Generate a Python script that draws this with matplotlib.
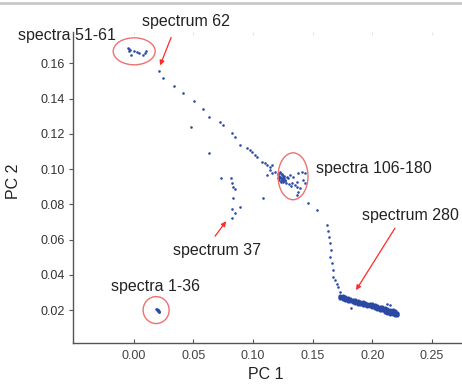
import numpy as np
import matplotlib
matplotlib.use('Agg')
import matplotlib.pyplot as plt
from matplotlib.patches import Ellipse
from matplotlib.lines import Line2D

plt.rcParams['font.family'] = ['Liberation Sans', 'DejaVu Sans']

# spectra 1-36
pc1_a = [0.0190, 0.0195, 0.0198, 0.0200, 0.0203, 0.0205, 0.0208, 0.0210, 0.0212, 0.0200, 0.0206]
pc2_a = [0.0208, 0.0205, 0.0203, 0.0200, 0.0198, 0.0196, 0.0193, 0.0190, 0.0188, 0.0202, 0.0194]

# spectrum 37 branch
pc1_b = [0.0732, 0.0816, 0.0824, 0.0832, 0.0849, 0.0832, 0.0891, 0.0824, 0.0849, 0.0824, 0.0631, 0.1084]
pc2_b = [0.0948, 0.0948, 0.0920, 0.0897, 0.0886, 0.0835, 0.0784, 0.0772, 0.0750, 0.0721, 0.1090, 0.0835]

# spectra 51-61
pc1_c = [-0.0048, -0.0039, -0.0031, -0.0039, -0.0023, 0.0003, 0.0028, 0.0044, 0.0078, 0.0095, 0.0103]
pc2_c = [0.1685, 0.1679, 0.1673, 0.1668, 0.1645, 0.1668, 0.1662, 0.1656, 0.1645, 0.1656, 0.1668]

# spectrum 62 down to 105
pc1_d = [0.0212, 0.0246, 0.0338, 0.0413, 0.0505, 0.0581, 0.0631, 0.0723, 0.0749, 0.0824,
         0.0849, 0.0891, 0.0950, 0.0975, 0.0992, 0.1017, 0.1034, 0.1076, 0.1101, 0.1118,
         0.1143, 0.1160, 0.1143, 0.1185, 0.0480, 0.1118, 0.1160]
pc2_d = [0.1554, 0.1515, 0.1469, 0.1430, 0.1384, 0.1339, 0.1294, 0.1265, 0.1248, 0.1203,
         0.1180, 0.1135, 0.1118, 0.1107, 0.1095, 0.1078, 0.1067, 0.1039, 0.1033, 0.1022,
         0.1010, 0.1022, 0.0993, 0.0982, 0.1237, 0.0965, 0.0976]

# spectra 106-180
pc1_e = [0.1226, 0.1243, 0.1218, 0.1251, 0.1285, 0.1310, 0.1335, 0.1377, 0.1411, 0.1436,
         0.1327, 0.1352, 0.1369, 0.1369, 0.1377, 0.1394, 0.1369, 0.1419, 0.1436, 0.1268,
         0.1293, 0.1210, 0.1218, 0.1226, 0.1235, 0.1243, 0.1251, 0.1260, 0.1218, 0.1235,
         0.1251, 0.1268, 0.1226, 0.1243, 0.1260, 0.1210, 0.1235, 0.1277, 0.1302, 0.1318]
pc2_e = [0.0982, 0.0965, 0.0948, 0.0937, 0.0954, 0.0965, 0.0954, 0.0976, 0.0982, 0.0976,
         0.0920, 0.0908, 0.0897, 0.0925, 0.0869, 0.0891, 0.0852, 0.0937, 0.0920, 0.0937,
         0.0948, 0.0971, 0.0960, 0.0954, 0.0948, 0.0943, 0.0954, 0.0948, 0.0937, 0.0931,
         0.0925, 0.0931, 0.0976, 0.0971, 0.0960, 0.0948, 0.0925, 0.0920, 0.0914, 0.0903]

# descent towards spectrum 280
pc1_f = [0.1462, 0.1538, 0.1621, 0.1629, 0.1638, 0.1646, 0.1654, 0.1646, 0.1663, 0.1671,
         0.1671, 0.1688, 0.1705, 0.1713, 0.1729]
pc2_f = [0.0806, 0.0767, 0.0682, 0.0648, 0.0614, 0.0580, 0.0540, 0.0500, 0.0466, 0.0427,
         0.0387, 0.0370, 0.0347, 0.0330, 0.0302]

# spectra ~181-300 band
pc1_g = [0.1729, 0.1729, 0.1729, 0.1750, 0.1750, 0.1750, 0.1771, 0.1771, 0.1771,
         0.1792, 0.1792, 0.1792, 0.1813, 0.1813, 0.1813, 0.1834, 0.1834, 0.1834,
         0.1855, 0.1855, 0.1855, 0.1876, 0.1876, 0.1876, 0.1897, 0.1897, 0.1897,
         0.1918, 0.1918, 0.1918, 0.1938, 0.1938, 0.1938, 0.1959, 0.1959, 0.1959,
         0.1980, 0.1980, 0.1980, 0.2001, 0.2001, 0.2001, 0.2022, 0.2022, 0.2022,
         0.2043, 0.2043, 0.2043, 0.2064, 0.2064, 0.2064, 0.2085, 0.2085, 0.2085,
         0.2106, 0.2106, 0.2106, 0.2106, 0.2127, 0.2127, 0.2127, 0.2127,
         0.2148, 0.2148, 0.2148, 0.2148, 0.2169, 0.2169, 0.2169, 0.2169,
         0.2190, 0.2190, 0.2190, 0.2190, 0.2207, 0.2207, 0.2207]
pc2_g = [0.0282, 0.0274, 0.0266, 0.0278, 0.0270, 0.0262, 0.0273, 0.0265, 0.0257,
         0.0268, 0.0261, 0.0253, 0.0264, 0.0257, 0.0250, 0.0259, 0.0252, 0.0245,
         0.0255, 0.0248, 0.0241, 0.0251, 0.0244, 0.0237, 0.0247, 0.0240, 0.0233,
         0.0243, 0.0237, 0.0230, 0.0240, 0.0234, 0.0227, 0.0237, 0.0231, 0.0224,
         0.0235, 0.0228, 0.0221, 0.0232, 0.0224, 0.0216, 0.0228, 0.0220, 0.0212,
         0.0224, 0.0216, 0.0208, 0.0220, 0.0211, 0.0203, 0.0216, 0.0207, 0.0199,
         0.0212, 0.0203, 0.0195, 0.0190, 0.0207, 0.0199, 0.0190, 0.0186,
         0.0203, 0.0194, 0.0186, 0.0180, 0.0199, 0.0190, 0.0182, 0.0176,
         0.0193, 0.0184, 0.0176, 0.0170, 0.0186, 0.0178, 0.0171]

# stray points near the band
pc1_h = [0.2123, 0.2148, 0.1822, 0.2157]
pc2_h = [0.0234, 0.0228, 0.0211, 0.0194]

pc1 = np.concatenate([pc1_a, pc1_b, pc1_c, pc1_d, pc1_e, pc1_f, pc1_h])
pc2 = np.concatenate([pc2_a, pc2_b, pc2_c, pc2_d, pc2_e, pc2_f, pc2_h])

# labels: text, text position, arrow tail, arrow head
labels = [
    ('spectra 51-61', (-0.0559, 0.1758), None, None),
    ('spectrum 62', (0.0438, 0.1838), (0.0313, 0.1747), (0.0220, 0.1588)),
    ('spectra 106-180', (0.2010, 0.1005), None, None),
    ('spectrum 280', (0.2316, 0.0738), (0.2190, 0.0665), (0.1863, 0.0313)),
    ('spectrum 37', (0.0700, 0.0540), (0.0681, 0.0619), (0.0774, 0.0704)),
    ('spectra 1-36', (0.0179, 0.0336), None, None),
]
# ellipses: centre, width, height
rings = [((0.0003, 0.1668), 0.0352, 0.0153),
         ((0.1335, 0.0959), 0.0251, 0.0266),
         ((0.0187, 0.0200), 0.0218, 0.0153)]

fig = plt.figure(figsize=(4.62, 3.85), dpi=100)
ax = fig.add_axes([0.158, 0.109, 0.840, 0.809])

ax.scatter(pc1, pc2, s=3.5, color='#2c4ba6', linewidths=0)
ax.scatter(pc1_g, pc2_g, s=9, color='#2a48a4', linewidths=0)

for (c, w, h) in rings:
    ax.add_patch(Ellipse(c, w, h, fill=False, edgecolor='#f07070', lw=1))

for txt, pos, tail, head in labels:
    ax.text(pos[0], pos[1], txt, fontsize=11.5, ha='center', va='center', color='#222222')
    if tail is not None:
        ax.annotate('', xy=head, xytext=tail,
                    arrowprops=dict(arrowstyle='-|>', color='#ff2a2a', lw=0.9,
                                    mutation_scale=7, shrinkA=0, shrinkB=0))

ax.set_xlim(-0.051, 0.2744)
ax.set_ylim(0.0013, 0.178)
ax.set_xticks([0.00, 0.05, 0.10, 0.15, 0.20, 0.25])
ax.set_xticklabels(['0.00', '0.05', '0.10', '0.15', '0.20', '0.25'])
ax.set_yticks([0.02, 0.04, 0.06, 0.08, 0.10, 0.12, 0.14, 0.16])
ax.set_yticklabels(['0.02', '0.04', '0.06', '0.08', '0.10', '0.12', '0.14', '0.16'])

for s in ['top', 'right']:
    ax.spines[s].set_visible(False)
for s in ['left', 'bottom']:
    ax.spines[s].set_color('#555555')
    ax.spines[s].set_linewidth(1)

ax.tick_params(axis='x', direction='in', length=3, labelsize=9, colors='#555555',
               labelcolor='#444444', pad=5)
ax.tick_params(axis='y', direction='out', length=3, labelsize=9, colors='#555555',
               labelcolor='#333333', pad=3)

# faint top ticks
top = ax.secondary_xaxis('top')
top.set_xticks([0.00, 0.05, 0.10, 0.15, 0.20, 0.25])
top.tick_params(direction='in', length=2, colors='#e4e4e4', labeltop=False)
top.spines['top'].set_visible(False)

ax.set_xlabel('PC 1', fontsize=11.5, color='#222222')
ax.set_ylabel('PC 2', fontsize=11.5, color='#222222')
ax.xaxis.set_label_coords(0.497, -0.078)
ax.yaxis.set_label_coords(-0.135, 0.52)

# grey rule along the top of the picture
fig.add_artist(Line2D([0, 1], [0.992, 0.992], transform=fig.transFigure,
                      color='#c8c8c8', lw=2))

fig.savefig('out.png', dpi=100)
